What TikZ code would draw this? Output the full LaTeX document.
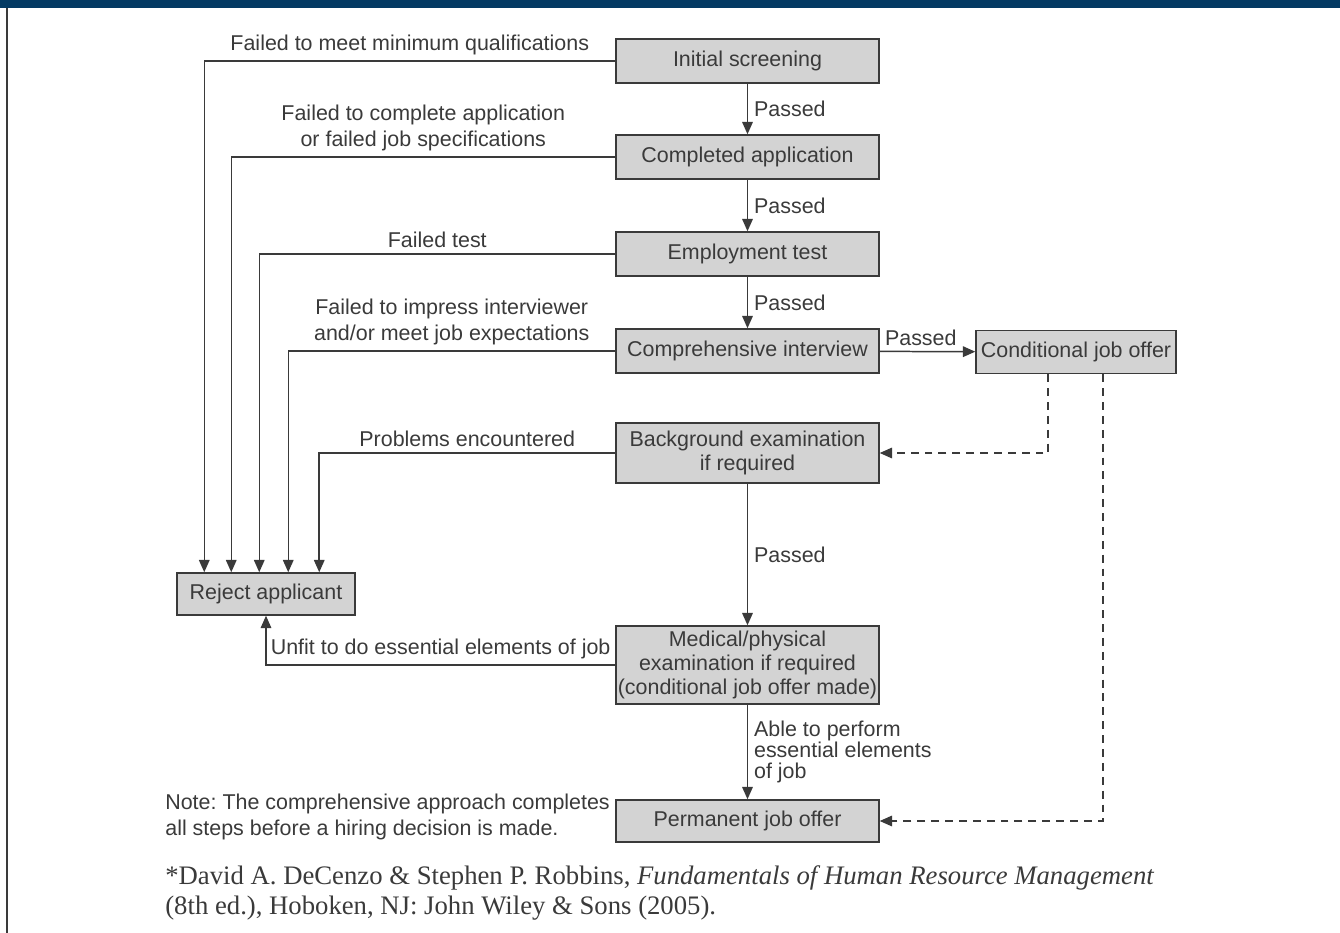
\documentclass[tikz,border=0pt]{standalone}
\usepackage{fontspec}
\setmainfont{Liberation Sans}
\newfontfamily\citefont{Liberation Serif}
\usetikzlibrary{positioning}
\usetikzlibrary{arrows.meta}
\frenchspacing

\definecolor{boxgray}{HTML}{D3D3D3}
\definecolor{ink}{HTML}{3A3A3A}
\definecolor{barblue}{HTML}{043A63}

\begin{document}
\begin{tikzpicture}[x=0.02cm, y=-0.02cm,
every node/.style={text=ink, font=\fontsize{12.2}{14.7}\selectfont},
stage/.style={draw=ink, fill=boxgray, line width=0.85pt, rectangle, minimum width=5.26cm, minimum height=0.88cm, align=center, inner sep=0pt, font=\fontsize{12.2}{13.5}\selectfont},
flow/.style={draw=ink, line width=0.85pt, -{Triangle[length=7pt,width=6pt]}},
optional/.style={flow, dash pattern=on 4.5pt off 3.4pt},
reason/.style={align=center, inner sep=3pt}]

\useasboundingbox (0,0) rectangle (1340,933);
\fill[barblue] (0,0) rectangle (1340,8);
\draw[ink, line width=1.1pt] (7,8) -- (7,933);

\node[stage] (screening) at (747.5,61) {Initial screening};
\node[stage] (application) at (747.5,157) {Completed application};
\node[stage] (test) at (747.5,254) {Employment test};
\node[stage] (interview) at (747.5,351) {Comprehensive interview};
\node[stage, minimum width=4cm, minimum height=0.86cm] (conditional) at (1076,352) {Conditional job offer};
\node[stage, minimum height=1.2cm] (background) at (747.5,453) {Background examination\\if required};
\node[stage, minimum height=1.56cm] (medical) at (747.5,665) {Medical/physical\\examination if required\\(conditional job offer made)};
\node[stage, minimum height=0.84cm] (permanent) at (747.5,821) {Permanent job offer};
\node[stage, minimum width=3.56cm, minimum height=0.84cm] (reject) at (266,594) {Reject applicant};

\node[anchor=west, align=left, inner sep=0pt] (note) at (165,817) {Note: The comprehensive approach completes\\all steps before a hiring decision is made.};
\node[anchor=west, align=left, inner sep=0pt, font=\citefont\fontsize{15.2}{17.6}\selectfont] (source) at (165,893) {*David A. DeCenzo \& Stephen P. Robbins, \textit{Fundamentals of Human Resource Management}\\(8th ed.), Hoboken, NJ: John Wiley \& Sons (2005).};

\draw[flow] (screening) -- node[right] {Passed} (application);
\draw[flow] (application) -- node[right] {Passed} (test);
\draw[flow] (test) -- node[right] {Passed} (interview);
\draw[flow] (interview) -- node[above, pos=0.43, inner sep=3pt] {Passed} (conditional);
\draw[flow] (background) -- node[right] {Passed} (medical);
\draw[flow] (medical) -- node[right, align=left, font=\fontsize{12.2}{11.9}\selectfont] {Able to perform\\essential elements\\of job} (permanent);

\draw[optional] ([xshift=-0.56cm]conditional.south) |- (background.east);
\draw[optional] ([xshift=0.54cm]conditional.south) |- (permanent.east);

\draw[flow] (screening.west) -| node[reason, above, pos=0.25] {Failed to meet minimum qualifications} ([xshift=0.56cm]reject.north west);
\draw[flow] (application.west) -| node[reason, above, pos=0.25] {Failed to complete application\\or failed job specifications} ([xshift=1.1cm]reject.north west);
\draw[flow] (test.west) -| node[reason, above, pos=0.25] {Failed test} ([xshift=1.66cm]reject.north west);
\draw[flow] (interview.west) -| node[reason, above, pos=0.25] {Failed to impress interviewer\\and/or meet job expectations} ([xshift=2.24cm]reject.north west);
\draw[flow] (background.west) -| node[reason, above, pos=0.25] {Problems encountered} ([xshift=2.86cm]reject.north west);
\draw[flow] (medical.west) -| node[reason, above, pos=0.25] {Unfit to do essential elements of job} (reject.south);

\end{tikzpicture}
\end{document}
